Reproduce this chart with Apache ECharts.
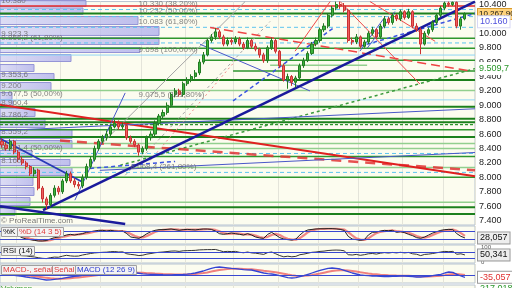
<!DOCTYPE html>
<html><head><meta charset="utf-8">
<script src="https://cdn.jsdelivr.net/npm/echarts@6/dist/echarts.min.js"></script>
<style>html,body{margin:0;padding:0;background:#fff}#c{width:512px;height:288px}</style>
</head><body><div id="c"></div>
<script>
// ---------- DATA ----------
const opens = [8500,8450,8400,8500,8350,8250,8200,8150,8050,8100,
 7850,7700,7620,7750,7850,7800,7950,8050,7950,7900,
 7880,8000,8150,8250,8400,8500,8550,8600,8700,8750,
 8700,8720,8550,8500,8450,8350,8400,8550,8600,8750,
 8850,8900,9000,9150,9200,9150,9300,9350,9400,9450,
 9600,9700,9900,9950,10020,9950,9850,9900,9880,9920,
 9850,9800,9900,9820,9780,9700,9620,9800,9900,9750,
 9550,9350,9400,9320,9380,9550,9620,9720,9850,9900,
 10050,10100,10250,10350,10400,10380,10320,9900,9880,9950,
 9820,9880,10000,10050,9950,10100,10200,10150,10250,10200,
 10300,10220,10300,10100,10050,9850,10000,10050,10150,10250,
 10350,10420,10400,10430,10100,10200];
const closes = [8450,8400,8500,8350,8250,8200,8150,8050,8100,7850,
 7700,7620,7750,7850,7800,7950,8050,7950,7900,7880,
 8000,8150,8250,8400,8500,8550,8600,8700,8750,8700,
 8720,8550,8500,8450,8350,8400,8550,8600,8750,8850,
 8900,9000,9150,9200,9150,9300,9350,9400,9450,9600,
 9700,9900,9950,10020,9950,9850,9900,9880,9920,9850,
 9800,9900,9820,9780,9700,9620,9800,9900,9750,9550,
 9350,9400,9320,9380,9550,9620,9720,9850,9900,10050,
 10100,10250,10350,10400,10380,10320,9900,9880,9950,9820,
 9880,10000,10050,9950,10100,10200,10150,10250,10200,10300,
 10220,10300,10100,10050,9850,10000,10050,10150,10250,10350,
 10420,10400,10430,10100,10200,10267.9];
const highs = [8540,8490,8530,8520,8380,8290,8230,8170,8140,8120,
 7880,7730,7780,7890,7880,7980,8090,8080,7990,7940,
 8040,8190,8290,8440,8530,8590,8650,8740,8800,8790,
 8760,8750,8580,8530,8470,8430,8580,8640,8790,8880,
 8940,9040,9180,9240,9230,9330,9390,9430,9490,9640,
 9740,9930,9990,10070,10050,9980,9940,9940,9960,9950,
 9880,9940,9920,9860,9800,9730,9830,9940,9920,9770,
 9580,9440,9420,9410,9580,9660,9750,9880,9940,10080,
 10140,10280,10380,10440,10440,10420,10340,9940,9990,9970,
 9910,10030,10090,10070,10130,10240,10230,10280,10270,10330,
 10320,10340,10320,10140,10080,10030,10080,10180,10280,10380,
 10440,10440,10440,10440,10230,10290];
const lows = [8410,8370,8370,8320,8210,8170,8110,8020,8010,7820,
 7650,7550,7590,7720,7760,7770,7920,7920,7860,7840,
 7850,7970,8120,8220,8370,8470,8510,8570,8680,8660,
 8670,8520,8470,8420,8300,8320,8370,8510,8570,8720,
 8820,8870,8970,9110,9120,9120,9270,9320,9370,9420,
 9570,9680,9870,9910,9920,9820,9820,9840,9850,9820,
 9770,9780,9790,9750,9660,9590,9590,9770,9720,9520,
 9330,9230,9270,9250,9350,9520,9600,9700,9820,9870,
 10020,10070,10220,10320,10340,10290,9870,9840,9850,9790,
 9800,9850,9970,9920,9920,10070,10120,10120,10170,10170,
 10190,10200,10070,10020,9710,9830,9970,10020,10120,10220,
 10320,10370,10380,10070,10050,10180];
const stochK = [65,60,55,50,45, 30,20,15,10,5,5,8, 20,30,35,40,50, 55,50,55,60,70,
 75,80,85,85,80,85,80,78,80, 60,35,30, 25,40, 60,75, 85,90,90,92,95,90,85,90,92,
 90,88,92,95,95,92, 80,60,55,60,65,60,55,50,60,50, 35,28,25, 55,70, 50,30,20,
 15,12,20, 50,75,88, 92,95,97,97,98,98,96,92,85, 40,20, 15,10,15, 50,70,
 72,80,85,82,85, 70,75,68, 55,45, 30,25,35, 50,65,75,85, 90,92,90, 60,40,28.057];
const stochD = [68,63,58,54,50, 42,32,22,15,11,8,7, 12,20,28,35,42, 48,52,54,58,62,
 68,75,80,83,83,83,82,80,80, 72,58,42, 32,32, 42,58, 72,83,88,90,92,92,90,89,90,
 90,90,90,92,93,93, 88,78,65,58,60,62,60,55,55,53, 45,35,29, 36,50, 58,50,33,
 22,16,15, 27,48,71, 85,92,95,96,97,97,97,95,91, 72,48, 25,15,13, 25,45,
 64,74,79,82,84, 79,76,71, 66,56, 43,33,30, 37,50,63,75, 83,89,91, 81,64,43];
const rsi14 = [58,55,60,52,48,45,44,40, 37,32,28,26,32,36,35,
 42,48,44,42,43,50,55,60,64,66, 68,69,72,73,70,71, 58,54,51,46,49,56,
 60,65,68,70,73,76,77,74,78,79,80,81,84,85,86,86,87,80,72,74,73,
 74,68,65,70,64,62,58,54, 66,70, 58,46,38,42,38,41, 52,56,62,68,70,74,
 76,80,82,83,82,78, 52,50,54,48,52, 58,60,56,62,66,63,67,64,68,64,67,58,
 55,46,54,56, 60,65,70,74,72,74, 55,58,50.341];
const macdLine = [10,5,0,-5,-12,-20,-30,-38, -45,-55,-65,-75,-72,-65,-58,
 -50,-40,-30,-22,-15,-5,5,15,22,30, 35,40,44,46,47,46, 44,40,34,26,18,12,10,
 8,6,4,3,2,4,5,8,12, 20,30,45,60,80,100,115,120, 115,108,100,95,88,82,78,75,
 60,45,30,20,15,5, -10,-25,-40,-45,-40, -25,-10,10,30,50,70, 85,100,105,100,90,
 70,50,30,15,0, -5,-10,-15,-15,-20,-25,-25,-20,-20,-15,-15,-20,-25,-30,-30,-25,-20,-10,0,10,
 30,45,40, 10,-15,-35.057];
const macdSignal = [20,17,13,9,5,0,-6,-13, -20,-27,-35,-43,-50,-54,-56,
 -55,-52,-47,-42,-36,-30,-22,-15,-8,0, 7,14,20,26,31,35, 37,38,37,35,32,28,25,
 21,18,15,13,11,9,8,8,9, 11,15,21,29,39,51,64,76, 84,90,93,94,93,91,88,86,
 80,73,64,56,48,40, 30,19,7,-3,-11, -14,-13,-8,0,10,22, 35,48,60,68,72,
 72,68,60,51,41, 32,23,16,10,4,0,-4,-7,-9,-10,-11,-13,-15,-18,-20,-21,-21,-19,-15,-10,
 -2,8,15, 14,8,0];
const priceTicks = [7400,7600,7800,8000,8200,8400,8600,8800,9000,9200,9400,9600,9800,10000,10400];
const monthStarts = [4,15,25,35,46,58,69,79,89,100,110];
// volume profile: [high price, low price, volume]
const profileHigh = [10441,10338,10220,10082,9931,9793,9696,9558,9434,9310,9172,9062,8952,8814,8662,8510,8372,8248,8138,8000,7862,7724,7586];
const profileLow  = [10344,10234,10096,9945,9820,9710,9586,9448,9324,9186,9062,8965,8828,8676,8524,8386,8262,8152,8014,7876,7738,7600,7462];
const profileVol  = [86,83,138,159,159,140,71,34,54,51,12,13,35,45,72,72,32,70,72,33,34,30,15];
// horizontal levels
const levelsRed = [10379];
const levelsGreenThick = [10275,9352,8979,8814,8766,8559,7586,7490];
const levelsGreen = [9931,9793,8662,8290,8000];
const levelsLightGreen = [9207,8469,8400,8138,7655];
const levelsGreenDashed = [8731];
const fibDashed = [10330,10232,10083,9866.2,8331.4,8068.4];
const fibSolid = [9698,9075.5];
// partial horizontal segments [x1, x2, price]
const segGreen = [[50,117.5,9627],[57.4,117.5,9476]];
const segLightGreen = [[66.6,90.7,9558]];
// trend lines [[index, price],[index, price]]
const trendNavy = [[[10.18,7545],[117.5,10441]], [[-0.5,7600],[30.6,7352]]];
const trendBlue = [[[-0.5,8538],[20.1,7931]]];
const trendBlueThin = [[[49.2,9848],[76.5,9200]], [[18.1,7683],[30.6,9172]], [[-0.5,8648],[117.5,8952]],
  [[24.3,8097],[117.5,8345]], [[88.9,9752],[95.2,10234]], [[90.7,9793],[97.6,10303]]];
const trendBlueDashed = [[[21.9,8124],[43,8221]], [[57.4,9062],[82.2,10069]], [[88.9,9820],[117.5,10275]]];
const trendRedThick = [[[-0.5,9007],[117.5,8014]]];
const trendRedDashedThick = [[[14.4,8510],[117.5,8097]]];
const trendRedDashed = [[[51.7,10082],[116.3,9476]]];
const trendRedThin = [[[72.8,9752],[81.5,10441]], [[84,10441],[103.8,9296]], [[91.4,10441],[107.6,9889]]];
const trendPinkDotted = [[[36.8,8235],[57.9,9614]]];
const trendGreenDotted = [[[29.3,8166],[117.5,9509.7]]];
const trendGray = [[[24.3,8441],[60.4,10441]]];
const trendGrayDashed = [[[30.6,8028],[66.6,10165]]];
// text labels [text, index, price]
const fibTexts = [['10.330 (38,20%)',33.8,10330],['10.232 (50,00%)',33.8,10232],['10.083 (61,80%)',33.8,10083],
  ['9.698 (100,00%)',33.8,9698],['9.075,5 (161,80%)',33.8,9075.5],['8.068,4 (261,80%)',31.8,8068.4]];
const profileTexts = [['10.380',-0.3,10380],['9.923,3',-0.3,9923.3],['9.866,2 (61,80%)',-0.3,9866.2],
  ['9.353,6',-0.3,9353.6],['9.200',-0.3,9200],['9.077,5 (50,00%)',-0.3,9077.5],['8.960,4',-0.3,8960.4],
  ['8.786,2',-0.3,8786.2],['8.559,2',-0.3,8559.2],['8.331,4 (50,00%)',-0.3,8331.4],['8.160',-0.3,8160]];
const lastPrice = 10267.9, blueTag = 10160, greenTag = 9509.7;
const lastK = 28.057, lastRsi = 50.341, lastMacd = -35.057, lastVolume = 217018;

// ---------- CHART ----------
const FONT = 'Liberation Sans, Arial, sans-serif';
const cats = opens.map((_, i) => 'd' + (i + 1)).concat(['', '']);
const fmtInt = v => Math.round(v).toString().replace(/\B(?=(\d{3})+(?!\d))/g, '.');
const fmtDec = (v, d) => { const s = Math.abs(v).toFixed(d).split('.'); return (v < 0 ? '-' : '') + s[0].replace(/\B(?=(\d{3})+(?!\d))/g, '.') + ',' + s[1]; };
const BG = '#fcfcef', BORDER = '#b8c4d0', VGRID = '#e4e4da';
const CLEAR = 'rgba(0,0,0,0)';
const splitFn = (idx) => monthStarts.indexOf(idx) >= 0;

const grids = [
  {left:0, top:0, width:475, height:225},
  {left:0, top:226, width:475, height:18},
  {left:0, top:245, width:475, height:18},
  {left:0, top:264, width:475, height:19},
  {left:0, top:285, width:475, height:20},
  {left:0, top:0, width:475, height:225, show:false}
].map((g, i) => Object.assign({show:true, backgroundColor:BG, borderColor:BORDER, borderWidth:1, containLabel:false}, g));

function catAxis(gi) {
  return {type:'category', gridIndex:gi, data:cats, boundaryGap:true,
    axisLine:{show:false}, axisTick:{show:false}, axisLabel:{show:false},
    splitLine:{show:true, interval:splitFn, lineStyle:{color:VGRID, width:1}}};
}
const xAxes = [catAxis(0),
  {type:'value', gridIndex:0, min:-0.5, max:117.5, show:false},
  catAxis(1), catAxis(2), catAxis(3), catAxis(4),
  {type:'value', gridIndex:5, min:0, max:475, show:false}];
const yAxes = [
  {type:'value', gridIndex:0, position:'right', min:7338, max:10441, scale:true,
    axisLine:{show:false}, axisTick:{show:false}, splitLine:{show:false},
    axisLabel:{customValues:priceTicks, formatter:fmtInt, fontSize:9, color:'#222', margin:4, fontFamily:FONT}},
  {type:'value', gridIndex:1, min:-17.5, max:117.5, show:false},
  {type:'value', gridIndex:2, position:'right', min:-3.33, max:116.67, axisLine:{show:false}, axisTick:{show:false}, splitLine:{show:false},
    axisLabel:{customValues:[0,100], fontSize:6, color:'#555', margin:6, fontFamily:FONT}},
  {type:'value', gridIndex:3, min:-120, max:165, show:false},
  {type:'value', gridIndex:4, min:0, max:100, show:false},
  {type:'value', gridIndex:5, min:7338, max:10441, show:false}
];

const series = [];
function seg(pts, color, width, type, z) {
  series.push({type:'line', xAxisIndex:1, yAxisIndex:0, data:pts, symbol:'none', silent:true,
    lineStyle:{color:color, width:width, type:type || 'solid'}, z:z || 2, animation:false});
}
// volume profile
series.push({type:'custom', xAxisIndex:6, yAxisIndex:5, z:1, silent:true,
  data: profileVol.map((v, i) => [profileHigh[i], profileLow[i], v]),
  encode:{x:2, y:[0,1]},
  renderItem: function(params, api) {
    const p1 = api.coord([0, api.value(0)]);
    const p2 = api.coord([api.value(2), api.value(1)]);
    return {type:'rect', shape:{x:p1[0], y:p1[1] + 0.5, width:p2[0] - p1[0], height:p2[1] - p1[1] - 1},
      style:{fill:new echarts.graphic.LinearGradient(0,0,1,0,[{offset:0,color:'rgba(210,210,246,0.75)'},{offset:1,color:'rgba(176,176,236,0.8)'}]), stroke:'#9494d6', lineWidth:1}};
  }});
// horizontal levels
levelsLightGreen.forEach(p => seg([[-0.5,p],[117.5,p]], '#92cf8e', 1.5));
levelsGreen.forEach(p => seg([[-0.5,p],[117.5,p]], '#2e962e', 1.5));
levelsGreenThick.forEach(p => seg([[-0.5,p],[117.5,p]], '#1c801c', 2));
levelsGreenDashed.forEach(p => seg([[-0.5,p],[117.5,p]], '#2e962e', 1.2, [3,2]));
fibDashed.forEach(p => seg([[-0.5,p],[117.5,p]], '#5cc4ef', 1, [4,3]));
fibSolid.forEach(p => seg([[-0.5,p],[117.5,p]], '#8fd6f5', 1));
levelsRed.forEach(p => seg([[-0.5,p],[117.5,p]], '#e42a2a', 1.5));
segGreen.forEach(s => seg([[s[0],s[2]],[s[1],s[2]]], '#2e962e', 1.5));
segLightGreen.forEach(s => seg([[s[0],s[2]],[s[1],s[2]]], '#92cf8e', 1.5));
// trend lines
trendGray.forEach(t => seg(t, '#a4a4a4', 1, 'solid', 3));
trendGrayDashed.forEach(t => seg(t, '#a8a8a8', 1, [3,3], 3));
trendPinkDotted.forEach(t => seg(t, '#f08a8a', 1, [2,3], 3));
trendGreenDotted.forEach(t => seg(t, '#3c9a3c', 1.5, [3,3], 3));
trendRedDashedThick.forEach(t => seg(t, 'rgba(226,52,52,0.85)', 2.5, [10,7], 3));
trendRedThick.forEach(t => seg(t, '#e02020', 2, 'solid', 3));
trendRedDashed.forEach(t => seg(t, '#ee4444', 1.5, [9,5], 3));
trendRedThin.forEach(t => seg(t, '#ee4848', 1, 'solid', 3));
trendBlueThin.forEach(t => seg(t, '#4a58c8', 1, 'solid', 3));
trendBlueDashed.forEach(t => seg(t, '#3a54e0', 1.5, [4,3], 3));
trendBlue.forEach(t => seg(t, '#2838b8', 1.8, 'solid', 3));
trendNavy.forEach(t => seg(t, '#1a1a9c', 2.5, 'solid', 4));
// text labels
function textSeries(list, color) {
  series.push({type:'scatter', xAxisIndex:1, yAxisIndex:0, symbolSize:1, itemStyle:{color:CLEAR}, silent:true, z:6,
    data: list.map(t => ({name:t[0], value:[t[1], t[2]]})),
    label:{show:true, formatter:'{b}', position:[1,-9], fontSize:8, color:color, fontFamily:FONT}});
}
textSeries(fibTexts, '#666');
textSeries(profileTexts, '#666');
// end-of-axis value tags
const endTag = (val, text, color, bg, border, size, pad) => ({yAxis:val, lineStyle:{color:CLEAR, width:0},
  label:{show:true, position:'end', distance:3, formatter:text, color:color, backgroundColor:bg, borderColor:border, borderWidth:1,
    padding:pad || [1,2], fontSize:size || 9, fontFamily:FONT}});
const tagLine = (items) => ({silent:true, symbol:'none', animation:false, data:items});
// candles
series.push({type:'candlestick', xAxisIndex:0, yAxisIndex:0, z:5, barWidth:2.6,
  data: opens.map((o, i) => [o, closes[i], lows[i], highs[i]]),
  itemStyle:{color:'#3cb33c', color0:'#f06060', borderColor:'#237a23', borderColor0:'#c83232', borderWidth:1},
  markLine: tagLine([
    endTag(lastPrice, fmtDec(lastPrice,2), '#111', '#ffd27a', '#d99a2a', 8, [1,1]),
    endTag(blueTag, fmtInt(blueTag), '#5050dd', '#ffffff', '#d8d8f4', 9),
    endTag(greenTag, fmtDec(greenTag,1), '#2a962a', '#ffffff', '#ffffff', 9, [1,1])
  ])});
// %K panel
const lvl = (vals, color) => ({silent:true, symbol:'none', animation:false, label:{show:false},
  data: vals.map(v => ({yAxis:v})), lineStyle:{color:color, width:1, type:'solid'}});
series.push({type:'line', xAxisIndex:2, yAxisIndex:1, data:stochD, symbol:'none', silent:true, z:3,
  lineStyle:{color:'rgba(236,96,96,0.75)', width:2.2}, markLine:lvl([80,20], '#3a48d0')});
series.push({type:'line', xAxisIndex:2, yAxisIndex:1, data:stochK, symbol:'none', silent:true, z:4,
  lineStyle:{color:'#222', width:1}, markLine:tagLine([endTag(lastK, fmtDec(lastK,3), '#111', '#eeeeee', '#9a9a9a')])});
// RSI panel
series.push({type:'line', xAxisIndex:3, yAxisIndex:2, data:rsi14, symbol:'none', silent:true, z:4,
  lineStyle:{color:'#333', width:1}, markLine:lvl([70,30], '#3a48d0')});
series.push({type:'line', xAxisIndex:3, yAxisIndex:2, data:rsi14, symbol:'none', silent:true, z:1,
  lineStyle:{color:CLEAR, width:0}, markLine:tagLine([endTag(lastRsi, fmtDec(lastRsi,3), '#111', '#eeeeee', '#9a9a9a')])});
// MACD panel
series.push({type:'line', xAxisIndex:4, yAxisIndex:3, data:macdSignal, symbol:'none', silent:true, z:3,
  lineStyle:{color:'rgba(236,96,96,0.8)', width:2}, markLine:lvl([0], '#3a48d0')});
series.push({type:'line', xAxisIndex:4, yAxisIndex:3, data:macdLine, symbol:'none', silent:true, z:4,
  lineStyle:{color:'#3444d4', width:1.3},
  markLine:tagLine([endTag(lastMacd, fmtDec(lastMacd,3), '#e03030', '#ffffff', '#9a9a9a')])});

const box = (text, left, top, color) => ({text:text, left:left, top:top, padding:[1,2],
  backgroundColor:'#f3f3f3', borderColor:'#a0a0a0', borderWidth:1,
  textStyle:{fontSize:8, color:color, fontWeight:'normal', fontFamily:FONT}});
const titles = [
  {text:'© ProRealTime.com', left:1, top:217, padding:0, textStyle:{fontSize:8, color:'#777', fontWeight:'normal', fontFamily:FONT}},
  box('%K', 1, 227, '#111'),
  box('%D (14 3 5)', 17, 227, '#e03c3c'),
  box('RSI (14)', 1, 246, '#111'),
  box('MACD-, señal', 1, 265, '#e03c3c'),
  box('Señal', 52, 265, '#e03c3c'),
  box('MACD (12 26 9)', 75, 265, '#2a3ad0'),
  {text:'Volumen', left:1, top:285, padding:0, textStyle:{fontSize:8, color:'#2a962a', fontWeight:'normal', fontFamily:FONT}},
  {text:fmtInt(lastVolume), left:480, top:284, padding:0, textStyle:{fontSize:9, color:'#2a962a', fontWeight:'normal', fontFamily:FONT}}
];

const chart = echarts.init(document.getElementById('c'), null, {renderer:'canvas'});
chart.setOption({animation:false, backgroundColor:'#ffffff', title:titles, grid:grids, xAxis:xAxes, yAxis:yAxes, series:series});
</script></body></html>
